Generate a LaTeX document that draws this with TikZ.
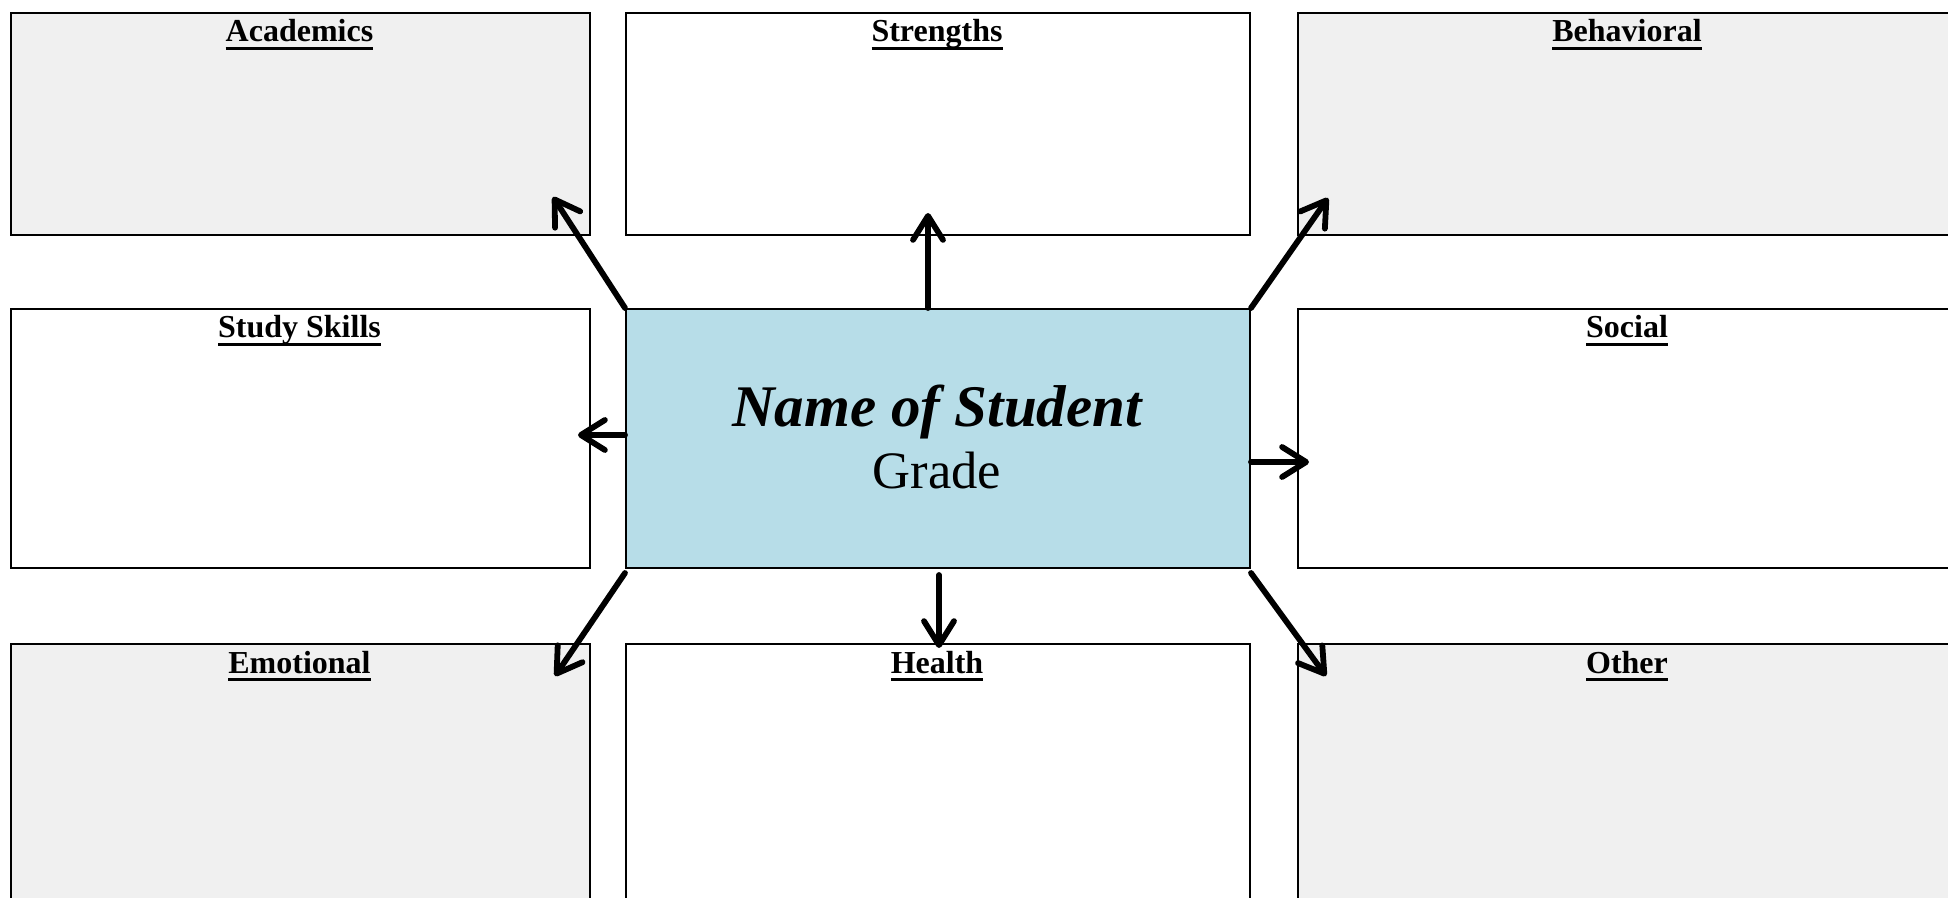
\documentclass[tikz,border=0pt]{standalone}
\usepackage{fontspec}
\setmainfont{Liberation Serif}
\usetikzlibrary{arrows.meta}
\definecolor{boxgrey}{HTML}{F0F0F0}
\definecolor{centerblue}{HTML}{B7DDE8}
\newcommand\titleul[1]{\setbox0\hbox{#1}\rlap{\rule[-3.9pt]{\wd0}{1.5pt}}\box0}
\begin{document}
\begin{tikzpicture}[x=0.5pt,y=-0.5pt,
  box/.style={draw=black, line width=1pt, inner sep=0pt, anchor=north west},
  greybox/.style={box, fill=boxgrey},
  whitebox/.style={box, fill=white},
  title/.style={anchor=base, inner sep=0pt, font=\fontsize{16}{19}\selectfont\bfseries},
  arr/.style={line width=2.9pt, line cap=round,
    -{Straight Barb[length=12pt,width=15pt,line cap=round,line join=round]}}
]
\useasboundingbox (0,0) rectangle (1948,898);
\clip (0,0) rectangle (1948,898);
\fill[white] (0,0) rectangle (1948,898);

% row 1
\path (10,12) node[greybox, minimum width=289.5pt, minimum height=111pt] (acad) {};
\path (625,12) node[whitebox, minimum width=312pt, minimum height=111pt] (stren) {};
\path (1297,12) node[greybox, minimum width=330pt, minimum height=111pt] (behav) {};
% row 2
\path (10,308) node[whitebox, minimum width=289.5pt, minimum height=129.5pt] (study) {};
\path (625,308) node[box, fill=centerblue, minimum width=312pt, minimum height=129.5pt] (center) {};
\path (1297,308) node[whitebox, minimum width=330pt, minimum height=129.5pt] (social) {};
% row 3
\path (10,643) node[greybox, minimum width=289.5pt, minimum height=140pt] (emot) {};
\path (625,643) node[whitebox, minimum width=312pt, minimum height=140pt] (health) {};
\path (1297,643) node[greybox, minimum width=330pt, minimum height=140pt] (other) {};

% titles
\node[title] (tacad) at (299.5,42) {\titleul{Academics}};
\node[title] (tstren) at (937,42) {\titleul{Strengths}};
\node[title] (tbehav) at (1627,42) {\titleul{Behavioral}};
\node[title] (tstudy) at (299.5,338) {\titleul{Study Skills}};
\node[title] (tsocial) at (1627,338) {\titleul{Social}};
\node[title] (temot) at (299.5,673) {\titleul{Emotional}};
\node[title] (thealth) at (937,673) {\titleul{Health}};
\node[title] (tother) at (1627,673) {\titleul{Other}};

% center text
\node[anchor=base, inner sep=0pt, font=\fontsize{29.5}{33}\selectfont\bfseries\itshape] (name) at (937,427) {Name of Student};
\node[anchor=base, inner sep=0pt, font=\fontsize{26.3}{30}\selectfont] (grade) at (937,488) {Grade};

% arrow tips
\coordinate (tipA) at (553,197);
\coordinate (tipS) at (928,213);
\coordinate (tipB) at (1328,198);
\coordinate (tipSt) at (578,435);
\coordinate (tipSo) at (1309,462);
\coordinate (tipE) at (555,676);
\coordinate (tipH) at (939,648);
\coordinate (tipO) at (1326,676);

\draw[arr] (center.north west) -- (tipA);
\draw[arr] (tipS |- center.north) -- (tipS);
\draw[arr] (center.north east) -- (tipB);
\draw[arr] (center.west |- tipSt) -- (tipSt);
\draw[arr] (center.east |- tipSo) -- (tipSo);
\draw[arr] ([yshift=-2pt]center.south west) -- (tipE);
\draw[arr] ([yshift=-3pt]tipH |- center.south) -- (tipH);
\draw[arr] ([yshift=-2pt]center.south east) -- (tipO);
\end{tikzpicture}
\end{document}
